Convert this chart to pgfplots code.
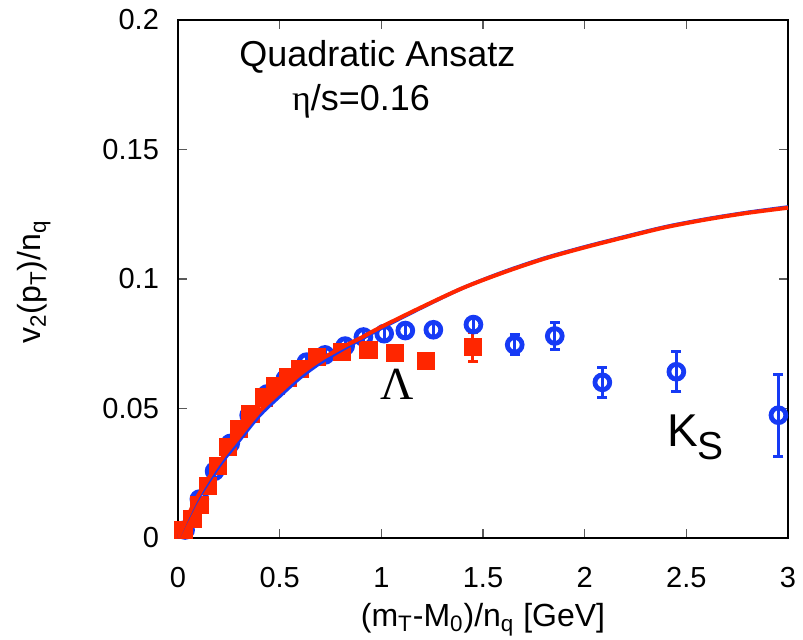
\documentclass[border=0pt]{standalone}
\usepackage{fontspec}
\setmainfont{Liberation Sans}
\newfontfamily\seriffont{Liberation Serif}
\usepackage{pgfplots}
\pgfplotsset{compat=1.18}
\usepackage{pgfplotstable}
\definecolor{kblue}{RGB}{22,58,245}
\definecolor{lred}{RGB}{255,38,0}
\pgfplotstableread{
x y e
0.035 0.0031 0.0025
0.105 0.0150 0.0025
0.180 0.0258 0.0025
0.257 0.0365 0.0025
0.350 0.0474 0.0025
0.438 0.0556 0.0025
0.528 0.0614 0.0025
0.632 0.0679 0.0025
0.723 0.0707 0.0025
0.822 0.0741 0.0025
0.912 0.0776 0.0025
1.014 0.0789 0.0025
1.118 0.0801 0.0025
1.256 0.0804 0.0025
1.453 0.0824 0.0025
1.656 0.0746 0.0038
1.853 0.0780 0.0052
2.087 0.0601 0.0058
2.451 0.0642 0.0078
2.953 0.0474 0.0159
}\ksdata
\pgfplotstableread{
x y e
0.027 0.0030 0
0.071 0.0073 0
0.105 0.0128 0
0.147 0.0200 0
0.196 0.0277 0
0.245 0.0351 0
0.301 0.0420 0
0.356 0.0478 0
0.421 0.0543 0
0.479 0.0588 0
0.540 0.0620 0
0.599 0.0653 0
0.685 0.0698 0
0.808 0.0720 0
0.936 0.0727 0
1.066 0.0714 0
1.220 0.0685 0.0020
1.449 0.0737 0.0057
}\lamdata
\pgfplotstableread{
x y
0.00 0.0000
0.05 0.0080
0.10 0.0155
0.20 0.0276
0.30 0.0375
0.40 0.0472
0.50 0.0547
0.60 0.0618
0.70 0.0676
0.80 0.0724
0.90 0.0767
1.00 0.0810
1.20 0.0890
1.40 0.0965
1.60 0.1027
1.80 0.1080
2.00 0.1124
2.20 0.1164
2.40 0.1202
2.60 0.1232
2.80 0.1257
3.00 0.1278
}\bluecurve
\pgfplotstableread{
x y
0.00 0.0000
0.05 0.0087
0.10 0.0165
0.20 0.0290
0.30 0.0390
0.40 0.0488
0.50 0.0563
0.60 0.0632
0.70 0.0688
0.80 0.0733
0.90 0.0773
1.00 0.0815
1.20 0.0892
1.40 0.0965
1.60 0.1025
1.80 0.1078
2.00 0.1122
2.20 0.1162
2.40 0.1200
2.60 0.1230
2.80 0.1255
3.00 0.1275
}\redcurve
\begin{document}
\begin{tikzpicture}
\useasboundingbox (-89pt,-50.5pt) rectangle (312.5pt,269pt);
\begin{axis}[
  at={(0,0)}, anchor=south west,
  scale only axis, width=305pt, height=259pt,
  xmin=0, xmax=3, ymin=0, ymax=0.2,
  xtick={0,0.5,1,1.5,2,2.5,3},
  xticklabels={0,0.5,1,1.5,2,2.5,3},
  ytick={0,0.05,0.1,0.15,0.2},
  yticklabels={0,0.05,0.1,0.15,0.2},
  tick align=inside, major tick length=4.5pt,
  tick style={gray!70!black, line width=0.6pt},
  axis line style={line width=0.8pt},
  ticklabel style={font=\fontsize{14.5}{17}\selectfont},
  xticklabel style={yshift=-11pt},
  yticklabel style={xshift=-6pt},
  xlabel={(m\textsubscript{T}-M\textsubscript{0})/n\textsubscript{q} [GeV]},
  ylabel={v\textsubscript{2}(p\textsubscript{T})/n\textsubscript{q}},
  label style={font=\fontsize{16}{19}\selectfont},
  xlabel style={at={(axis description cs:0.5,-0.158)}, anchor=center},
  ylabel style={at={(axis description cs:-0.236,0.494)}, anchor=center},
  clip=false,
]
\addplot[kblue, line width=2.4pt, only marks, mark=o, mark size=3.7pt,
  error bars/.cd, y dir=both, y explicit, error mark=-,
  error bar style={line width=1.5pt, kblue},
  error mark options={rotate=90, line width=1.5pt, mark size=2.5pt, kblue}]
  table[x=x, y=y, y error=e] {\ksdata};
\addplot[lred, only marks, mark=square*, mark size=4.3pt,
  error bars/.cd, y dir=both, y explicit, error mark=-,
  error bar style={line width=1.5pt, lred},
  error mark options={rotate=90, line width=1.5pt, mark size=2.5pt, lred}]
  table[x=x, y=y, y error=e] {\lamdata};
\node[font=\fontsize{18}{21}\selectfont, anchor=base] at (axis cs:0.981,0.1819) {Quadratic Ansatz};
\node[font=\fontsize{18}{21}\selectfont, anchor=base] at (axis cs:0.90,0.1652) {{\seriffont η}/s=0.16};
\node[font=\seriffont\fontsize{23}{26}\selectfont, anchor=base] at (axis cs:1.076,0.0535) {Λ};
\node[font=\fontsize{23}{26}\selectfont, anchor=base west, inner sep=0pt] at (axis cs:2.404,0.03525) {K\raisebox{-6.5pt}{\fontsize{19.5}{22}\selectfont S}};
\end{axis}
\begin{axis}[
  at={(0,0)}, anchor=south west,
  scale only axis, width=305pt, height=259pt,
  xmin=0, xmax=3, ymin=0, ymax=0.2,
  axis lines=none, ticks=none,
]
\addplot[kblue, line width=1.8pt, no marks, smooth] table[x=x,y=y] {\bluecurve};
\addplot[lred, line width=2.0pt, no marks, smooth] table[x=x,y=y] {\redcurve};
\end{axis}
\end{tikzpicture}
\end{document}
